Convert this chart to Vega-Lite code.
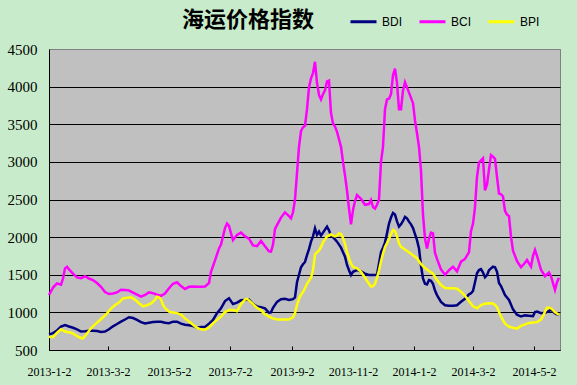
{
"$schema":"https://vega.github.io/schema/vega-lite/v6.json",
"width":511,"height":301,
"autosize":"none",
"padding":{"left":49,"top":49,"right":17,"bottom":35},
"background":"#C8ECCB",
"config":{"view":{"fill":"#C0C0C0","stroke":"#808080","strokeWidth":1}},
"title":{"text":"海运价格指数","font":"Noto Sans CJK SC","fontSize":22,"fontWeight":"bold","color":"black","anchor":"start","dx":175,"offset":-25},
"datasets":{
"BDI":[{"d":"2013-01-02","v":708},{"d":"2013-01-06","v":725},{"d":"2013-01-10","v":760},{"d":"2013-01-14","v":810},{"d":"2013-01-18","v":832},{"d":"2013-01-22","v":812},{"d":"2013-01-26","v":795},{"d":"2013-01-30","v":775},{"d":"2013-02-03","v":745},{"d":"2013-02-07","v":750},{"d":"2013-02-11","v":757},{"d":"2013-02-15","v":755},{"d":"2013-02-19","v":752},{"d":"2013-02-23","v":740},{"d":"2013-02-27","v":745},{"d":"2013-03-03","v":775},{"d":"2013-03-07","v":815},{"d":"2013-03-11","v":845},{"d":"2013-03-15","v":877},{"d":"2013-03-19","v":905},{"d":"2013-03-23","v":935},{"d":"2013-03-27","v":925},{"d":"2013-03-31","v":900},{"d":"2013-04-04","v":870},{"d":"2013-04-08","v":854},{"d":"2013-04-12","v":863},{"d":"2013-04-16","v":872},{"d":"2013-04-20","v":877},{"d":"2013-04-24","v":875},{"d":"2013-04-28","v":863},{"d":"2013-05-02","v":856},{"d":"2013-05-06","v":877},{"d":"2013-05-10","v":877},{"d":"2013-05-14","v":850},{"d":"2013-05-18","v":835},{"d":"2013-05-22","v":830},{"d":"2013-05-26","v":820},{"d":"2013-05-30","v":795},{"d":"2013-06-03","v":805},{"d":"2013-06-07","v":805},{"d":"2013-06-11","v":850},{"d":"2013-06-15","v":900},{"d":"2013-06-19","v":990},{"d":"2013-06-23","v":1054},{"d":"2013-06-27","v":1150},{"d":"2013-07-01","v":1187},{"d":"2013-07-05","v":1110},{"d":"2013-07-09","v":1130},{"d":"2013-07-13","v":1160},{"d":"2013-07-17","v":1165},{"d":"2013-07-21","v":1170},{"d":"2013-07-25","v":1110},{"d":"2013-07-29","v":1080},{"d":"2013-08-02","v":1070},{"d":"2013-08-06","v":1054},{"d":"2013-08-10","v":995},{"d":"2013-08-12","v":1000},{"d":"2013-08-14","v":1060},{"d":"2013-08-18","v":1140},{"d":"2013-08-22","v":1175},{"d":"2013-08-26","v":1180},{"d":"2013-08-30","v":1165},{"d":"2013-09-03","v":1175},{"d":"2013-09-05","v":1200},{"d":"2013-09-07","v":1400},{"d":"2013-09-09","v":1500},{"d":"2013-09-11","v":1600},{"d":"2013-09-13","v":1640},{"d":"2013-09-15","v":1670},{"d":"2013-09-17","v":1760},{"d":"2013-09-19","v":1840},{"d":"2013-09-21","v":1940},{"d":"2013-09-23","v":2010},{"d":"2013-09-25","v":2117},{"d":"2013-09-27","v":2030},{"d":"2013-09-29","v":2073},{"d":"2013-10-01","v":2020},{"d":"2013-10-03","v":2060},{"d":"2013-10-05","v":2100},{"d":"2013-10-07","v":2139},{"d":"2013-10-09","v":2090},{"d":"2013-10-11","v":2020},{"d":"2013-10-13","v":2000},{"d":"2013-10-15","v":1970},{"d":"2013-10-17","v":1940},{"d":"2013-10-19","v":1900},{"d":"2013-10-21","v":1860},{"d":"2013-10-23","v":1800},{"d":"2013-10-25","v":1740},{"d":"2013-10-27","v":1630},{"d":"2013-10-29","v":1560},{"d":"2013-10-31","v":1497},{"d":"2013-11-02","v":1540},{"d":"2013-11-06","v":1563},{"d":"2013-11-10","v":1545},{"d":"2013-11-14","v":1515},{"d":"2013-11-18","v":1497},{"d":"2013-11-22","v":1497},{"d":"2013-11-26","v":1500},{"d":"2013-11-28","v":1650},{"d":"2013-11-30","v":1800},{"d":"2013-12-02","v":1860},{"d":"2013-12-04","v":1930},{"d":"2013-12-06","v":2050},{"d":"2013-12-08","v":2180},{"d":"2013-12-10","v":2260},{"d":"2013-12-12","v":2320},{"d":"2013-12-14","v":2300},{"d":"2013-12-16","v":2210},{"d":"2013-12-18","v":2140},{"d":"2013-12-20","v":2170},{"d":"2013-12-22","v":2215},{"d":"2013-12-24","v":2270},{"d":"2013-12-26","v":2250},{"d":"2013-12-28","v":2206},{"d":"2013-12-30","v":2170},{"d":"2014-01-01","v":2120},{"d":"2014-01-03","v":2040},{"d":"2014-01-05","v":1960},{"d":"2014-01-07","v":1850},{"d":"2014-01-09","v":1620},{"d":"2014-01-11","v":1450},{"d":"2014-01-13","v":1380},{"d":"2014-01-15","v":1370},{"d":"2014-01-17","v":1430},{"d":"2014-01-19","v":1420},{"d":"2014-01-21","v":1380},{"d":"2014-01-23","v":1290},{"d":"2014-01-25","v":1230},{"d":"2014-01-29","v":1140},{"d":"2014-02-02","v":1095},{"d":"2014-02-06","v":1089},{"d":"2014-02-10","v":1089},{"d":"2014-02-14","v":1095},{"d":"2014-02-18","v":1142},{"d":"2014-02-22","v":1180},{"d":"2014-02-26","v":1240},{"d":"2014-02-28","v":1253},{"d":"2014-03-02","v":1285},{"d":"2014-03-04","v":1400},{"d":"2014-03-06","v":1520},{"d":"2014-03-08","v":1563},{"d":"2014-03-10","v":1575},{"d":"2014-03-12","v":1530},{"d":"2014-03-14","v":1466},{"d":"2014-03-16","v":1495},{"d":"2014-03-18","v":1560},{"d":"2014-03-20","v":1585},{"d":"2014-03-22","v":1607},{"d":"2014-03-24","v":1600},{"d":"2014-03-26","v":1540},{"d":"2014-03-28","v":1390},{"d":"2014-03-30","v":1350},{"d":"2014-04-03","v":1230},{"d":"2014-04-07","v":1165},{"d":"2014-04-11","v":1040},{"d":"2014-04-15","v":970},{"d":"2014-04-19","v":945},{"d":"2014-04-23","v":960},{"d":"2014-04-27","v":955},{"d":"2014-05-01","v":950},{"d":"2014-05-03","v":1005},{"d":"2014-05-05","v":1010},{"d":"2014-05-09","v":990},{"d":"2014-05-13","v":995},{"d":"2014-05-17","v":1015},{"d":"2014-05-19","v":1040},{"d":"2014-05-21","v":1010},{"d":"2014-05-23","v":985},{"d":"2014-05-25","v":975},{"d":"2014-05-27","v":965}],
"BCI":[{"d":"2013-01-02","v":1231},{"d":"2013-01-06","v":1330},{"d":"2013-01-10","v":1386},{"d":"2013-01-14","v":1368},{"d":"2013-01-16","v":1450},{"d":"2013-01-18","v":1585},{"d":"2013-01-20","v":1607},{"d":"2013-01-22","v":1570},{"d":"2013-01-26","v":1515},{"d":"2013-01-30","v":1465},{"d":"2013-02-03","v":1455},{"d":"2013-02-07","v":1480},{"d":"2013-02-11","v":1450},{"d":"2013-02-15","v":1428},{"d":"2013-02-19","v":1390},{"d":"2013-02-23","v":1340},{"d":"2013-02-27","v":1270},{"d":"2013-03-03","v":1244},{"d":"2013-03-07","v":1250},{"d":"2013-03-11","v":1265},{"d":"2013-03-15","v":1300},{"d":"2013-03-19","v":1297},{"d":"2013-03-23","v":1290},{"d":"2013-03-27","v":1262},{"d":"2013-03-31","v":1235},{"d":"2013-04-04","v":1209},{"d":"2013-04-08","v":1231},{"d":"2013-04-12","v":1266},{"d":"2013-04-16","v":1255},{"d":"2013-04-20","v":1235},{"d":"2013-04-24","v":1220},{"d":"2013-04-28","v":1250},{"d":"2013-05-02","v":1320},{"d":"2013-05-06","v":1380},{"d":"2013-05-10","v":1400},{"d":"2013-05-14","v":1350},{"d":"2013-05-18","v":1310},{"d":"2013-05-22","v":1340},{"d":"2013-05-26","v":1345},{"d":"2013-05-30","v":1342},{"d":"2013-06-03","v":1340},{"d":"2013-06-07","v":1342},{"d":"2013-06-11","v":1390},{"d":"2013-06-13","v":1540},{"d":"2013-06-17","v":1690},{"d":"2013-06-21","v":1850},{"d":"2013-06-23","v":1900},{"d":"2013-06-25","v":2010},{"d":"2013-06-27","v":2120},{"d":"2013-06-29","v":2180},{"d":"2013-07-01","v":2150},{"d":"2013-07-03","v":2050},{"d":"2013-07-05","v":1960},{"d":"2013-07-09","v":2030},{"d":"2013-07-13","v":2060},{"d":"2013-07-17","v":2010},{"d":"2013-07-21","v":1980},{"d":"2013-07-25","v":1890},{"d":"2013-07-29","v":1880},{"d":"2013-08-02","v":1950},{"d":"2013-08-06","v":1880},{"d":"2013-08-10","v":1810},{"d":"2013-08-12","v":1807},{"d":"2013-08-14","v":1900},{"d":"2013-08-16","v":2110},{"d":"2013-08-18","v":2160},{"d":"2013-08-22","v":2260},{"d":"2013-08-26","v":2330},{"d":"2013-08-30","v":2280},{"d":"2013-09-01","v":2250},{"d":"2013-09-03","v":2330},{"d":"2013-09-05","v":2500},{"d":"2013-09-07","v":2850},{"d":"2013-09-09","v":3200},{"d":"2013-09-11","v":3410},{"d":"2013-09-13","v":3460},{"d":"2013-09-15","v":3480},{"d":"2013-09-17","v":3700},{"d":"2013-09-19","v":3990},{"d":"2013-09-21","v":4110},{"d":"2013-09-23","v":4180},{"d":"2013-09-25","v":4330},{"d":"2013-09-27","v":4050},{"d":"2013-09-29","v":3890},{"d":"2013-10-01","v":3830},{"d":"2013-10-03","v":3900},{"d":"2013-10-05","v":3950},{"d":"2013-10-07","v":4070},{"d":"2013-10-09","v":4080},{"d":"2013-10-11","v":3650},{"d":"2013-10-13","v":3510},{"d":"2013-10-15","v":3468},{"d":"2013-10-17","v":3400},{"d":"2013-10-19","v":3300},{"d":"2013-10-21","v":3200},{"d":"2013-10-23","v":3000},{"d":"2013-10-25","v":2820},{"d":"2013-10-27","v":2620},{"d":"2013-10-29","v":2380},{"d":"2013-10-31","v":2170},{"d":"2013-11-02","v":2360},{"d":"2013-11-04","v":2480},{"d":"2013-11-06","v":2560},{"d":"2013-11-10","v":2510},{"d":"2013-11-14","v":2430},{"d":"2013-11-18","v":2440},{"d":"2013-11-20","v":2494},{"d":"2013-11-22","v":2400},{"d":"2013-11-24","v":2380},{"d":"2013-11-26","v":2430},{"d":"2013-11-28","v":2500},{"d":"2013-11-30","v":3000},{"d":"2013-12-02","v":3200},{"d":"2013-12-04","v":3700},{"d":"2013-12-06","v":3830},{"d":"2013-12-08","v":3840},{"d":"2013-12-10","v":3900},{"d":"2013-12-12","v":4150},{"d":"2013-12-14","v":4240},{"d":"2013-12-16","v":4050},{"d":"2013-12-18","v":3700},{"d":"2013-12-20","v":3700},{"d":"2013-12-22","v":3950},{"d":"2013-12-24","v":4060},{"d":"2013-12-26","v":3990},{"d":"2013-12-28","v":3920},{"d":"2013-12-30","v":3850},{"d":"2014-01-01","v":3780},{"d":"2014-01-03","v":3550},{"d":"2014-01-05","v":3380},{"d":"2014-01-07","v":3200},{"d":"2014-01-09","v":2880},{"d":"2014-01-11","v":2300},{"d":"2014-01-13","v":1980},{"d":"2014-01-15","v":1850},{"d":"2014-01-17","v":1980},{"d":"2014-01-19","v":2060},{"d":"2014-01-21","v":2050},{"d":"2014-01-23","v":1790},{"d":"2014-01-25","v":1710},{"d":"2014-01-29","v":1570},{"d":"2014-02-02","v":1500},{"d":"2014-02-06","v":1560},{"d":"2014-02-10","v":1607},{"d":"2014-02-14","v":1545},{"d":"2014-02-18","v":1674},{"d":"2014-02-22","v":1710},{"d":"2014-02-26","v":1800},{"d":"2014-02-28","v":2080},{"d":"2014-03-02","v":2180},{"d":"2014-03-04","v":2400},{"d":"2014-03-06","v":2800},{"d":"2014-03-08","v":2990},{"d":"2014-03-10","v":3020},{"d":"2014-03-12","v":3047},{"d":"2014-03-14","v":2620},{"d":"2014-03-16","v":2700},{"d":"2014-03-18","v":2900},{"d":"2014-03-20","v":3090},{"d":"2014-03-22","v":3070},{"d":"2014-03-24","v":3040},{"d":"2014-03-26","v":2800},{"d":"2014-03-28","v":2580},{"d":"2014-03-30","v":2570},{"d":"2014-04-01","v":2540},{"d":"2014-04-03","v":2350},{"d":"2014-04-05","v":2300},{"d":"2014-04-07","v":2280},{"d":"2014-04-09","v":2006},{"d":"2014-04-11","v":1820},{"d":"2014-04-15","v":1680},{"d":"2014-04-19","v":1600},{"d":"2014-04-23","v":1660},{"d":"2014-04-25","v":1696},{"d":"2014-04-27","v":1650},{"d":"2014-04-29","v":1607},{"d":"2014-05-01","v":1750},{"d":"2014-05-03","v":1829},{"d":"2014-05-05","v":1750},{"d":"2014-05-09","v":1565},{"d":"2014-05-13","v":1480},{"d":"2014-05-17","v":1530},{"d":"2014-05-19","v":1480},{"d":"2014-05-21","v":1390},{"d":"2014-05-23","v":1300},{"d":"2014-05-25","v":1400},{"d":"2014-05-27","v":1460}],
"BPI":[{"d":"2013-01-02","v":677},{"d":"2013-01-06","v":670},{"d":"2013-01-10","v":730},{"d":"2013-01-14","v":775},{"d":"2013-01-18","v":745},{"d":"2013-01-22","v":735},{"d":"2013-01-26","v":720},{"d":"2013-01-30","v":685},{"d":"2013-02-03","v":660},{"d":"2013-02-05","v":655},{"d":"2013-02-09","v":720},{"d":"2013-02-13","v":788},{"d":"2013-02-17","v":840},{"d":"2013-02-21","v":885},{"d":"2013-02-25","v":935},{"d":"2013-03-01","v":987},{"d":"2013-03-05","v":1050},{"d":"2013-03-09","v":1098},{"d":"2013-03-13","v":1130},{"d":"2013-03-17","v":1185},{"d":"2013-03-21","v":1195},{"d":"2013-03-25","v":1200},{"d":"2013-03-29","v":1170},{"d":"2013-04-02","v":1120},{"d":"2013-04-06","v":1080},{"d":"2013-04-10","v":1095},{"d":"2013-04-14","v":1120},{"d":"2013-04-18","v":1165},{"d":"2013-04-20","v":1209},{"d":"2013-04-22","v":1200},{"d":"2013-04-24","v":1173},{"d":"2013-04-26","v":1100},{"d":"2013-04-28","v":1060},{"d":"2013-05-02","v":1010},{"d":"2013-05-06","v":998},{"d":"2013-05-10","v":990},{"d":"2013-05-14","v":970},{"d":"2013-05-18","v":920},{"d":"2013-05-22","v":880},{"d":"2013-05-26","v":835},{"d":"2013-05-30","v":795},{"d":"2013-06-03","v":775},{"d":"2013-06-07","v":770},{"d":"2013-06-11","v":800},{"d":"2013-06-15","v":854},{"d":"2013-06-19","v":900},{"d":"2013-06-23","v":945},{"d":"2013-06-27","v":1005},{"d":"2013-07-01","v":1030},{"d":"2013-07-05","v":1030},{"d":"2013-07-09","v":1015},{"d":"2013-07-13","v":1110},{"d":"2013-07-17","v":1170},{"d":"2013-07-19","v":1180},{"d":"2013-07-21","v":1160},{"d":"2013-07-25","v":1110},{"d":"2013-07-29","v":1060},{"d":"2013-08-02","v":1030},{"d":"2013-08-06","v":975},{"d":"2013-08-10","v":945},{"d":"2013-08-14","v":920},{"d":"2013-08-18","v":905},{"d":"2013-08-22","v":905},{"d":"2013-08-26","v":905},{"d":"2013-08-30","v":905},{"d":"2013-09-03","v":935},{"d":"2013-09-05","v":990},{"d":"2013-09-07","v":1100},{"d":"2013-09-09","v":1180},{"d":"2013-09-11","v":1235},{"d":"2013-09-13","v":1270},{"d":"2013-09-15","v":1320},{"d":"2013-09-17","v":1380},{"d":"2013-09-19","v":1420},{"d":"2013-09-21","v":1460},{"d":"2013-09-23","v":1560},{"d":"2013-09-25","v":1770},{"d":"2013-09-27","v":1800},{"d":"2013-09-29","v":1820},{"d":"2013-10-01","v":1870},{"d":"2013-10-03","v":1930},{"d":"2013-10-05","v":1970},{"d":"2013-10-07","v":2010},{"d":"2013-10-09","v":2020},{"d":"2013-10-11","v":2037},{"d":"2013-10-13","v":2020},{"d":"2013-10-15","v":2010},{"d":"2013-10-17","v":2020},{"d":"2013-10-19","v":2050},{"d":"2013-10-21","v":2040},{"d":"2013-10-23","v":1990},{"d":"2013-10-25","v":1910},{"d":"2013-10-27","v":1800},{"d":"2013-10-29","v":1718},{"d":"2013-10-31","v":1650},{"d":"2013-11-02","v":1605},{"d":"2013-11-06","v":1585},{"d":"2013-11-10","v":1540},{"d":"2013-11-14","v":1460},{"d":"2013-11-18","v":1380},{"d":"2013-11-20","v":1342},{"d":"2013-11-22","v":1350},{"d":"2013-11-24","v":1380},{"d":"2013-11-26","v":1460},{"d":"2013-11-28","v":1560},{"d":"2013-11-30","v":1680},{"d":"2013-12-02","v":1780},{"d":"2013-12-04","v":1870},{"d":"2013-12-06","v":1920},{"d":"2013-12-08","v":1975},{"d":"2013-12-10","v":2040},{"d":"2013-12-12","v":2095},{"d":"2013-12-14","v":2080},{"d":"2013-12-16","v":2010},{"d":"2013-12-18","v":1918},{"d":"2013-12-20","v":1870},{"d":"2013-12-24","v":1835},{"d":"2013-12-28","v":1800},{"d":"2014-01-01","v":1760},{"d":"2014-01-05","v":1720},{"d":"2014-01-09","v":1640},{"d":"2014-01-13","v":1590},{"d":"2014-01-17","v":1550},{"d":"2014-01-21","v":1515},{"d":"2014-01-25","v":1430},{"d":"2014-01-29","v":1364},{"d":"2014-02-02","v":1325},{"d":"2014-02-06","v":1320},{"d":"2014-02-10","v":1320},{"d":"2014-02-14","v":1315},{"d":"2014-02-18","v":1275},{"d":"2014-02-22","v":1220},{"d":"2014-02-26","v":1150},{"d":"2014-03-02","v":1080},{"d":"2014-03-06","v":1054},{"d":"2014-03-10","v":1098},{"d":"2014-03-14","v":1115},{"d":"2014-03-18","v":1120},{"d":"2014-03-22","v":1118},{"d":"2014-03-24","v":1100},{"d":"2014-03-26","v":1070},{"d":"2014-03-30","v":943},{"d":"2014-04-03","v":850},{"d":"2014-04-07","v":810},{"d":"2014-04-11","v":795},{"d":"2014-04-15","v":785},{"d":"2014-04-19","v":820},{"d":"2014-04-23","v":840},{"d":"2014-04-27","v":860},{"d":"2014-05-01","v":865},{"d":"2014-05-05","v":870},{"d":"2014-05-09","v":905},{"d":"2014-05-11","v":950},{"d":"2014-05-13","v":1010},{"d":"2014-05-15","v":1060},{"d":"2014-05-17","v":1060},{"d":"2014-05-19","v":1054},{"d":"2014-05-21","v":1030},{"d":"2014-05-23","v":1000},{"d":"2014-05-25","v":985},{"d":"2014-05-27","v":965}]
},
"encoding":{
"x":{"field":"d","type":"temporal","scale":{"type":"utc","domain":[{"year":2013,"month":1,"date":2,"utc":true},{"year":2014,"month":5,"date":28,"utc":true}]},
"axis":{"title":null,"labelExpr":"utcFormat(datum.value, '%Y-%-m-%-d')","values":[{"year":2013,"month":1,"date":2,"utc":true},{"year":2013,"month":3,"date":2,"utc":true},{"year":2013,"month":5,"date":2,"utc":true},{"year":2013,"month":7,"date":2,"utc":true},{"year":2013,"month":9,"date":2,"utc":true},{"year":2013,"month":11,"date":2,"utc":true},{"year":2014,"month":1,"date":2,"utc":true},{"year":2014,"month":3,"date":2,"utc":true},{"year":2014,"month":5,"date":2,"utc":true}],"grid":false,"domainColor":"black","domainWidth":1,"tickColor":"black","tickSize":-4,"labelPadding":20,"labelFont":"Liberation Serif, serif","labelFontSize":12,"labelColor":"black","labelAngle":0,"labelFlush":false,"labelOverlap":false}},
"y":{"field":"v","type":"quantitative","scale":{"domain":[500,4500],"nice":false,"zero":false},
"axis":{"title":null,"format":"d","values":[500,1000,1500,2000,2500,3000,3500,4000,4500],"grid":true,"gridColor":{"condition":{"test":"datum.value >= 4500","value":"#808080"},"value":"black"},"gridWidth":1,"gridOpacity":1,"domainColor":"black","domainWidth":1,"ticks":false,"labelPadding":12,"labelFont":"Liberation Serif, serif","labelFontSize":15,"labelColor":"black"}},
"color":{"type":"nominal","scale":{"domain":["BDI","BCI","BPI"],"range":["#000080","#FF00FF","#FFFF00"]},
"legend":{"title":null,"orient":"none","direction":"horizontal","legendX":300,"legendY":-42,"symbolType":"stroke","symbolSize":676,"symbolStrokeWidth":3,"labelFont":"Liberation Sans","labelFontSize":12,"labelColor":"black","labelOffset":4,"columnPadding":10}}
},
"layer":[
{"data":{"name":"BDI"},"mark":{"type":"line","strokeWidth":2.5},"encoding":{"color":{"datum":"BDI"}}},
{"data":{"name":"BCI"},"mark":{"type":"line","strokeWidth":2.5},"encoding":{"color":{"datum":"BCI"}}},
{"data":{"name":"BPI"},"mark":{"type":"line","strokeWidth":2.5},"encoding":{"color":{"datum":"BPI"}}}
]
}
